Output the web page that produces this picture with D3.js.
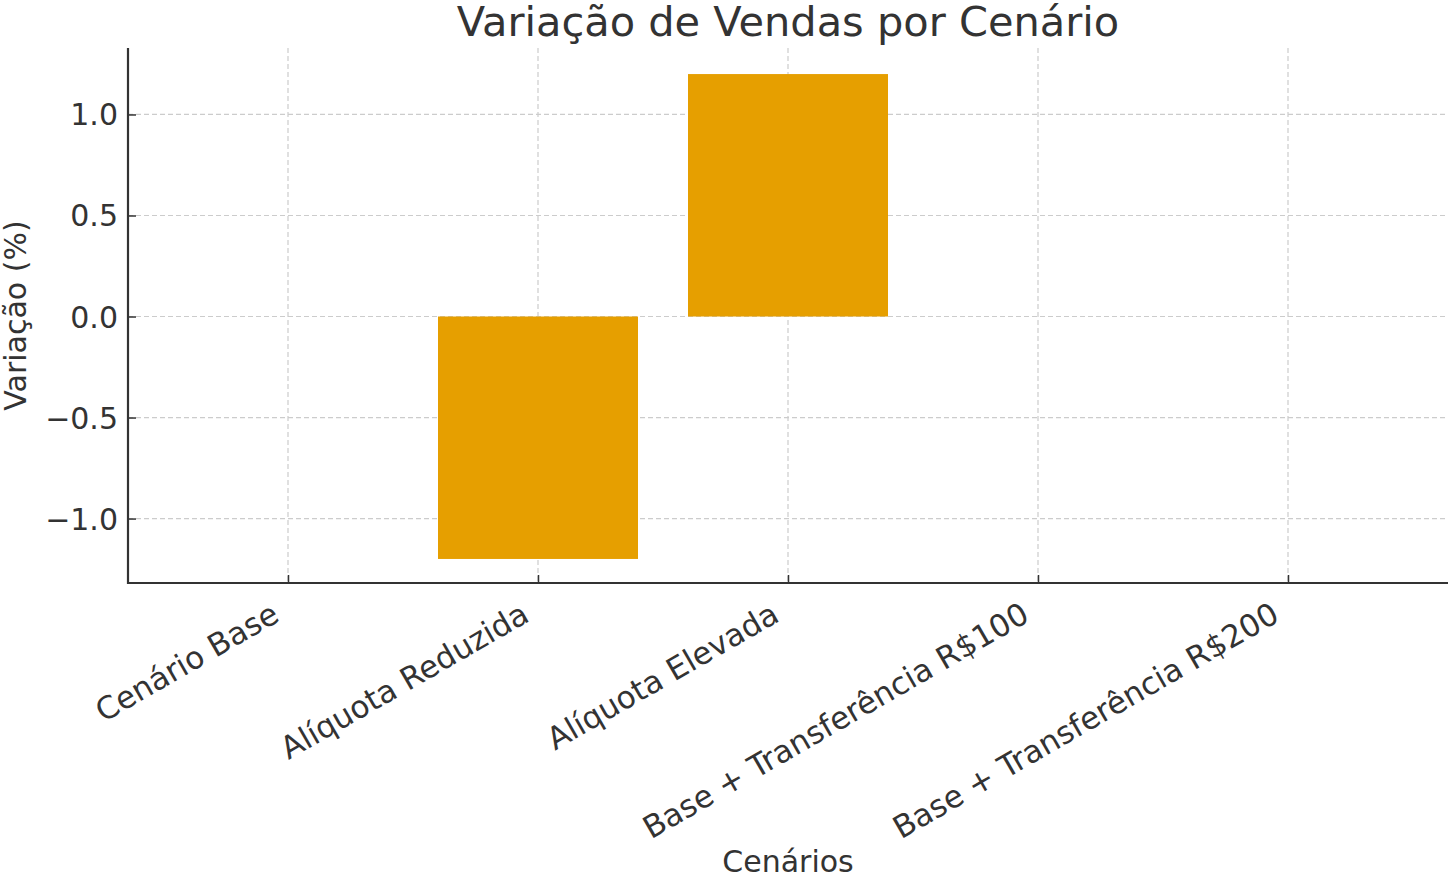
<!DOCTYPE html>
<html><head><meta charset="utf-8">
<script src="https://cdn.jsdelivr.net/npm/d3@7"></script>
<style>
html,body{margin:0;padding:0;background:#fff;}
svg{display:block;font-family:"DejaVu Sans",sans-serif;}
</style></head>
<body><svg id="chart" width="1450" height="876"></svg>
<script>
const categories = ["Cenário Base","Alíquota Reduzida","Alíquota Elevada","Base + Transferência R$100","Base + Transferência R$200"];
const values = [0, -1.2, 1.2, 0, 0];
const yTicks = [-1.0, -0.5, 0.0, 0.5, 1.0];
const titleText = "Variação de Vendas por Cenário";
const xLabelText = "Cenários";
const yLabelText = "Variação (%)";

const svg = d3.select("#chart");
const L = 128, R = 1448, T = 48, B = 583;
const textColor = "#333333";

// linear index scale mimicking matplotlib bar layout
const x = d3.scaleLinear().domain([-0.64, categories.length - 1 + 0.64]).range([L, R]);
const barW = x(0.8) - x(0);
const y = d3.scaleLinear().domain([-1.319, 1.329]).range([B, T]);

// grid
const grid = svg.append("g");
grid.selectAll("line.gy").data(yTicks).join("line")
  .attr("x1", L).attr("x2", R).attr("y1", d => y(d)).attr("y2", d => y(d))
  .attr("stroke", "#cccccc").attr("stroke-width", 1.2).attr("stroke-dasharray", "5,3");
grid.selectAll("line.gx").data(categories).join("line")
  .attr("x1", (d,i) => x(i)).attr("x2", (d,i) => x(i)).attr("y1", T).attr("y2", B)
  .attr("stroke", "#cccccc").attr("stroke-width", 1.2).attr("stroke-dasharray", "5,3");

// bars
svg.append("g").selectAll("rect").data(values).join("rect")
  .attr("x", (d,i) => x(i) - barW/2)
  .attr("width", barW)
  .attr("y", d => y(Math.max(0, d)))
  .attr("height", d => Math.abs(y(d) - y(0)))
  .attr("fill", "#E69F00");

// y axis
const yAxis = svg.append("g").attr("transform", `translate(${L},0)`)
  .call(d3.axisLeft(y).tickValues(yTicks).tickSize(-8).tickPadding(12)
        .tickFormat(d => d3.format(".1f")(d).replace("-", "\u2212")));
yAxis.select(".domain").remove();
yAxis.selectAll(".tick line").attr("stroke", textColor).attr("stroke-width", 1.5);
yAxis.selectAll(".tick text").attr("font-size", 30).attr("fill", textColor)
  .attr("font-family", "DejaVu Sans").attr("x", -10).attr("dy", "0.35em");

// x axis ticks (inward)
const xAxis = svg.append("g").attr("transform", `translate(0,${B})`)
  .call(d3.axisBottom(x).tickValues(d3.range(categories.length)).tickSize(-8).tickFormat(""));
xAxis.select(".domain").remove();
xAxis.selectAll(".tick line").attr("stroke", textColor).attr("stroke-width", 1.5);

// x tick labels rotated 30°, right-aligned bbox
const fs = 31, h = fs * 1.16;
svg.append("g").selectAll("text").data(categories).join("text")
  .attr("transform", (d,i) => `translate(${x(i) - h/4 - 3},${B + 13 + 0.433*h}) rotate(-30)`)
  .attr("text-anchor", "end").attr("dy", "0.32em")
  .attr("font-size", fs).attr("fill", textColor)
  .text(d => d);

// spines
svg.append("line").attr("x1", L).attr("x2", L).attr("y1", T).attr("y2", B + 1)
  .attr("stroke", textColor).attr("stroke-width", 2.2);
svg.append("line").attr("x1", L - 1).attr("x2", R).attr("y1", B).attr("y2", B)
  .attr("stroke", textColor).attr("stroke-width", 2.2);

// title
svg.append("text").attr("x", (L+R)/2).attr("y", 36).attr("text-anchor", "middle")
  .attr("font-size", 41.5).attr("fill", textColor).text(titleText);
// x label
svg.append("text").attr("x", (L+R)/2).attr("y", 872).attr("text-anchor", "middle")
  .attr("font-size", 30).attr("fill", textColor).text(xLabelText);
// y label
svg.append("text").attr("transform", `translate(26,${(T+B)/2}) rotate(-90)`)
  .attr("text-anchor", "middle").attr("font-size", 30).attr("fill", textColor).text(yLabelText);
</script></body></html>
